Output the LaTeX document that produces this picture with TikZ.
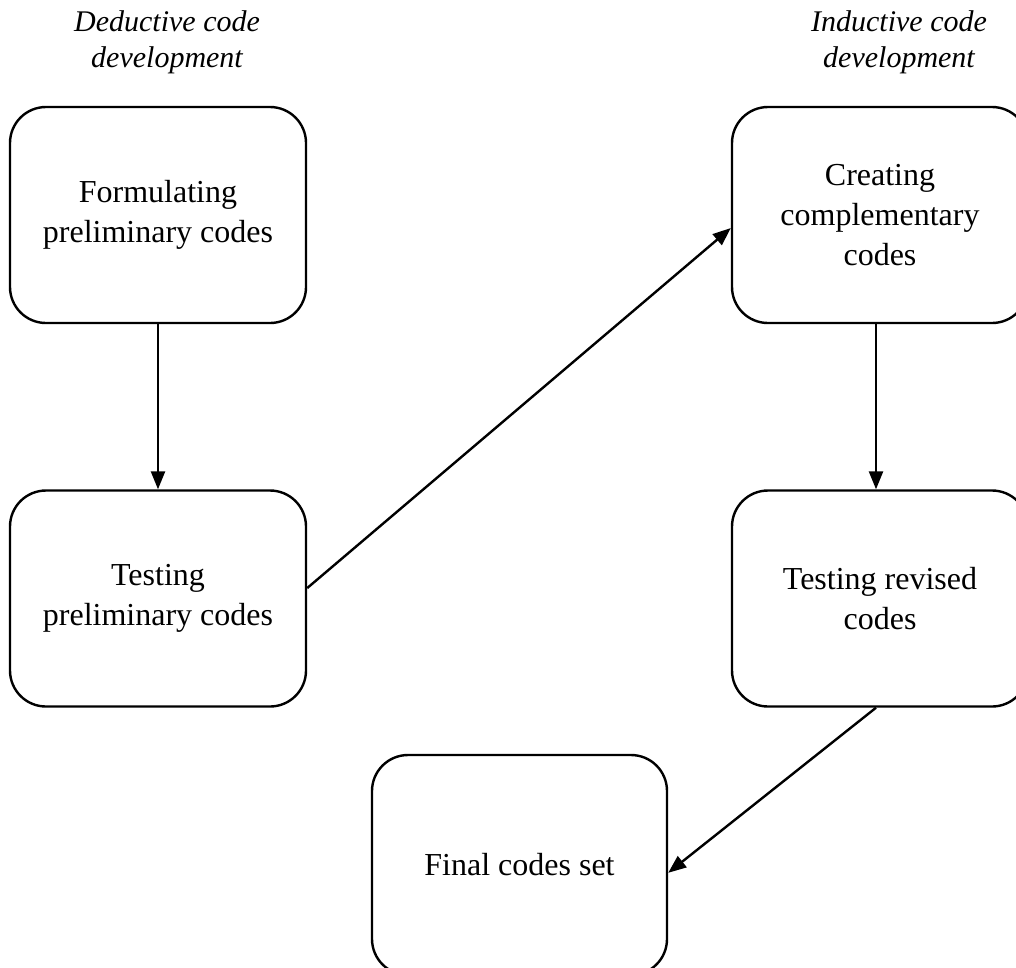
\documentclass[tikz,border=0pt]{standalone}
\usepackage{fontspec}
\setmainfont{Liberation Serif}
\usetikzlibrary{arrows.meta}
\begin{document}
\begin{tikzpicture}[x=1pt,y=-1pt,
  stagebox/.style={draw, line width=2.4pt, rounded corners=36pt, align=center,
    minimum width=296pt, minimum height=216pt,
    font=\fontsize{32}{40}\selectfont},
  heading/.style={align=center, font=\fontsize{30}{36}\selectfont\itshape},
  flow/.style={line width=2.4pt, -{Triangle[length=18pt,width=14pt]}}]
\useasboundingbox (0,0) rectangle (1016,967);
\node[heading] (hd) at (167,42) {Deductive code\\development};
\node[heading] (hi) at (899,42) {Inductive code\\development};
\node[stagebox] (b1) at (158,215) {Formulating\\preliminary codes};
\node[stagebox] (b2) at (158,598.5) {Testing\\preliminary codes};
\node[stagebox] (b3) at (880,215) {Creating\\complementary\\codes};
\node[stagebox] (b4) at (880,598.5) {Testing revised\\codes};
\node[stagebox, minimum width=295pt, minimum height=220pt] (b5) at (519.5,865) {Final codes set};
\draw[flow] (b1.south) -- (b2.north);
\draw[flow] (b3.south -| 876,0) -- (b4.north -| 876,0);
\draw[flow] (b2.4.4) -- (b3.185);
\draw[flow] (b4.south -| 876,0) -- (b5.357.3);
\end{tikzpicture}
\end{document}
